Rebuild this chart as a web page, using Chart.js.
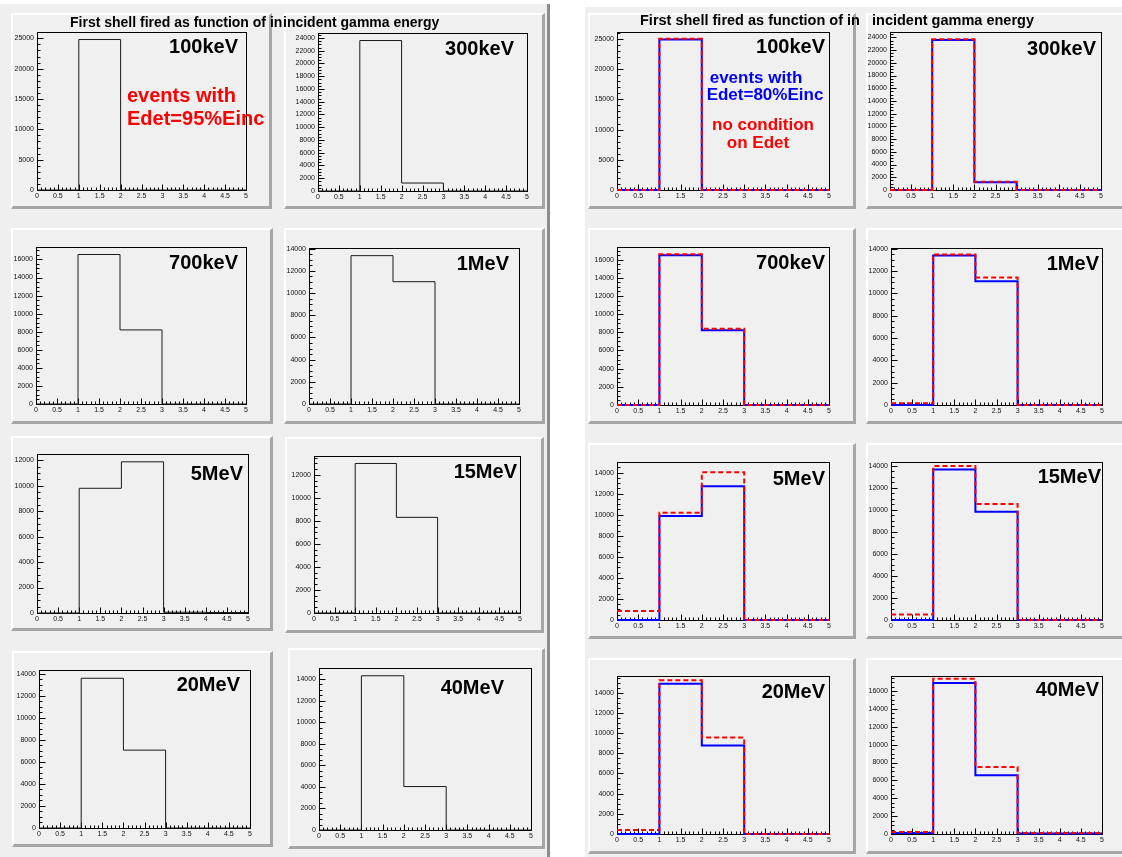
<!DOCTYPE html>
<html>
<head>
<meta charset="utf-8">
<script src="https://cdn.jsdelivr.net/npm/chart.js@4.4.1/dist/chart.umd.min.js"></script>
<style>
  body { margin:0; width:1122px; height:857px; position:relative; overflow:hidden; background:#fff;
         font-family:"Liberation Sans", Arial, Helvetica, sans-serif; }
  .half { position:absolute; background:#efefef; }
  .pad { position:absolute; box-sizing:border-box; background:#f0f0f0;
         border-top:2px solid #fff; border-left:2px solid #fff;
         border-right:3px solid #a6a6a6; border-bottom:3px solid #a6a6a6; }
  .pad canvas { position:absolute; left:0; top:0; }
  .txt { position:absolute; font-weight:bold; line-height:1; white-space:nowrap; }
</style>
</head>
<body>
<div class="half" style="left:0;top:4px;width:547px;height:853px;border-right:3px solid #8c8c8c"></div>
<div class="half" style="left:585px;top:7px;width:537px;height:850px"></div>
<div id="pads"></div>
<div id="texts"></div>

<script>
// =========================
// DATOS
// =========================
const binEdges = [0, 1, 2, 3, 4, 5];
const energyLabels = ["100keV", "300keV", "700keV", "1MeV", "5MeV", "15MeV", "20MeV", "40MeV"];

// izquierda: eventos con Edet = 95% Einc
const cut95 = [
  [0, 24800, 0, 0, 0],
  [0, 23600, 1250, 0, 0],
  [0, 16550, 8200, 0, 0],
  [0, 13380, 11030, 0, 0],
  [0, 9800, 11880, 60, 40],
  [0, 12990, 8310, 0, 0],
  [0, 13600, 7070, 0, 0],
  [0, 14300, 4030, 0, 0]
];

// derecha: Edet = 80% Einc (azul) y sin condicion (rojo)
const cut80 = [
  [0, 24890, 0, 0, 0],
  [0, 23580, 1210, 0, 0],
  [0, 16480, 8240, 0, 0],
  [0, 13400, 11080, 0, 0],
  [0, 9890, 12700, 0, 0],
  [0, 13670, 9830, 0, 0],
  [0, 14890, 8760, 0, 0],
  [110, 16900, 6580, 60, 60]
];
const noCut = [
  [0, 25050, 0, 0, 0],
  [0, 23690, 1310, 0, 0],
  [0, 16590, 8380, 0, 0],
  [150, 13490, 11430, 0, 0],
  [850, 10200, 14030, 0, 0],
  [500, 14000, 10550, 0, 0],
  [400, 15220, 9550, 0, 0],
  [220, 17380, 7510, 100, 100]
];

// ejes
const yMaxLeft = [26040, 24780, 17380, 14070, 12495, 13640, 14350, 15020];
const yMaxRight = [26150, 24840, 17390, 14070, 15010, 14360, 15650, 17680];
const yStep = [5000, 2000, 2000, 2000, 2000, 2000, 2000, 2000];
const xTickLabels = [0, 0.5, 1, 1.5, 2, 2.5, 3, 3.5, 4, 4.5, 5];

// =========================
// LAYOUT (pixeles)
// =========================
const leftBoxes = [[11,13,272,209],[284,13,545,209],[11,228,273,424],[284,228,545,424],
                   [11,436,273,631],[285,437,544,633],[12,651,273,847],[288,648,545,849]];
const leftFrames = [[37,32,246,190],[318,33,527,191],[36,247,246,404],[309,248,519,404],
                    [37,454,248,613],[314,456,520,613],[39,670,250,828],[319,668,531,830]];
const rightBoxes = [[588,13,856,209],[866,13,1130,209],[588,228,856,424],[866,228,1130,424],
                    [588,443,856,639],[866,443,1130,639],[588,658,856,854],[866,658,1130,854]];
const rightFrames = [[617,32,829,190],[890,32,1101,190],[617,247,829,405],[891,248,1102,405],
                     [617,462,829,620],[891,462,1102,620],[617,676,829,834],[891,676,1102,834]];
const leftLabelAt = [[238,53],[514,55],[238,269],[509,270],[243,480],[517,478],[240,691],[504,694]];
const rightLabelAt = [[825,53],[1096,55],[825,269],[1099,270],[825,485],[1101,483],[825,698],[1099,696]];

Chart.defaults.font.family = "'Liberation Sans', Arial, Helvetica, sans-serif";
Chart.defaults.font.size = 7;
Chart.defaults.color = "#111";

// marco + ticks hacia dentro, estilo ROOT
const rootFrame = {
  id: "rootFrame",
  beforeDatasetsDraw(chart) {
    const { ctx, chartArea: a, scales: { x, y } } = chart;
    ctx.save();
    ctx.strokeStyle = "#000";
    ctx.lineWidth = 1;
    const l = Math.round(a.left) + 0.5, t = Math.round(a.top) + 0.5;
    const r = Math.round(a.right) + 0.5, b = Math.round(a.bottom) + 0.5;
    ctx.strokeRect(l, t, r - l, b - t);
    ctx.beginPath();
    for (let i = 0; i <= 50; i++) {
      const px = Math.round(x.getPixelForValue(i * 0.1)) + 0.5;
      const len = i % 5 === 0 ? 6 : 3;
      ctx.moveTo(px, b);
      ctx.lineTo(px, b - len);
    }
    const step = chart.options.yStep;
    const div = step === 5000 ? 5 : 4;
    const minor = step / div;
    for (let k = 0; k * minor <= y.max; k++) {
      const py = Math.round(y.getPixelForValue(k * minor)) + 0.5;
      const len = k % div === 0 ? 6 : 3;
      ctx.moveTo(l, py);
      ctx.lineTo(l + len, py);
    }
    ctx.stroke();
    ctx.restore();
  }
};

function histPoints(vals) {
  return binEdges.map((e, i) => ({ x: e, y: vals[Math.min(i, vals.length - 1)] }));
}

function addText(str, x, baseline, size, color, align) {
  const d = document.createElement("div");
  d.className = "txt";
  d.textContent = str;
  d.style.fontSize = size + "px";
  d.style.color = color;
  d.style.left = x + "px";
  d.style.top = (baseline - 0.8465 * size) + "px";
  if (align === "right") d.style.transform = "translateX(-100%)";
  if (align === "center") d.style.transform = "translateX(-50%)";
  document.getElementById("texts").appendChild(d);
}

function makePad(box, frame, datasets, yMax, step) {
  const [bx0, by0, bx1, by1] = box;
  const pad = document.createElement("div");
  pad.className = "pad";
  pad.style.left = bx0 + "px";
  pad.style.top = by0 + "px";
  pad.style.width = (bx1 - bx0) + "px";
  pad.style.height = (by1 - by0) + "px";
  const cw = bx1 - bx0 - 5, ch = by1 - by0 - 5;
  const canvas = document.createElement("canvas");
  canvas.width = cw;
  canvas.height = ch;
  canvas.style.width = cw + "px";
  canvas.style.height = ch + "px";
  pad.appendChild(canvas);
  document.getElementById("pads").appendChild(pad);

  const ox = bx0 + 2, oy = by0 + 2;
  const fl = frame[0] - ox, ft = frame[1] - oy, fr = frame[2] - ox, fb = frame[3] - oy;

  const yTicks = [];
  for (let v = 0; v <= yMax; v += step) yTicks.push({ value: v });

  new Chart(canvas.getContext("2d"), {
    type: "line",
    data: { datasets },
    options: {
      responsive: false,
      animation: false,
      events: [],
      yStep: step,
      layout: { autoPadding: false, padding: { top: ft, right: cw - fr, left: 0, bottom: 0 } },
      plugins: { legend: { display: false }, tooltip: { enabled: false } },
      scales: {
        x: {
          type: "linear", min: 0, max: 5,
          grid: { display: false, drawTicks: false, tickLength: 0 }, border: { display: false },
          ticks: { padding: 2, maxRotation: 0, autoSkip: false, color: "#111",
                   callback: (v) => String(v) },
          afterBuildTicks(s) { s.ticks = xTickLabels.map((v) => ({ value: v })); },
          afterFit(s) { s.height = ch - fb; }
        },
        y: {
          type: "linear", min: 0, max: yMax,
          grid: { display: false, drawTicks: false, tickLength: 0 }, border: { display: false },
          ticks: { padding: 3, autoSkip: false, color: "#111", callback: (v) => String(v) },
          afterBuildTicks(s) { s.ticks = yTicks.slice(); },
          afterFit(s) { s.width = fl; }
        }
      }
    },
    plugins: [rootFrame]
  });
}

// =========================
// PANELES
// =========================
energyLabels.forEach((lab, i) => {
  makePad(leftBoxes[i], leftFrames[i], [
    { data: histPoints(cut95[i]), stepped: true, borderColor: "#1a1a1a", borderWidth: 1,
      pointRadius: 0, fill: false, clip: false }
  ], yMaxLeft[i], yStep[i]);

  makePad(rightBoxes[i], rightFrames[i], [
    { data: histPoints(noCut[i]), stepped: true, borderColor: "#ff0000", borderWidth: 2,
      borderDash: [5, 3], pointRadius: 0, fill: false, clip: false },
    { data: histPoints(cut80[i]), stepped: true, borderColor: "#0000ff", borderWidth: 2,
      pointRadius: 0, fill: false, clip: false }
  ], yMaxRight[i], yStep[i]);

  addText(lab, leftLabelAt[i][0], leftLabelAt[i][1], 20, "#000", "right");
  addText(lab, rightLabelAt[i][0], rightLabelAt[i][1], 20, "#000", "right");
});

// titulos y anotaciones
addText("First shell fired as function of in", 70, 27, 14, "#000", "left");
addText("incident gamma energy", 283, 27, 14, "#000", "left");
addText("First shell fired as function of in", 640, 25, 14.5, "#000", "left");
addText("incident gamma energy", 872, 25, 14.5, "#000", "left");

addText("events with", 127, 102, 20, "#ff0000", "left");
addText("Edet=95%Einc", 127, 125, 20, "#ff0000", "left");
addText("events with", 756, 83, 17, "#0000ff", "center");
addText("Edet=80%Einc", 765, 100, 17, "#0000ff", "center");
addText("no condition", 763, 130, 17, "#ff0000", "center");
addText("on Edet", 758, 148, 17, "#ff0000", "center");
</script>
</body>
</html>
